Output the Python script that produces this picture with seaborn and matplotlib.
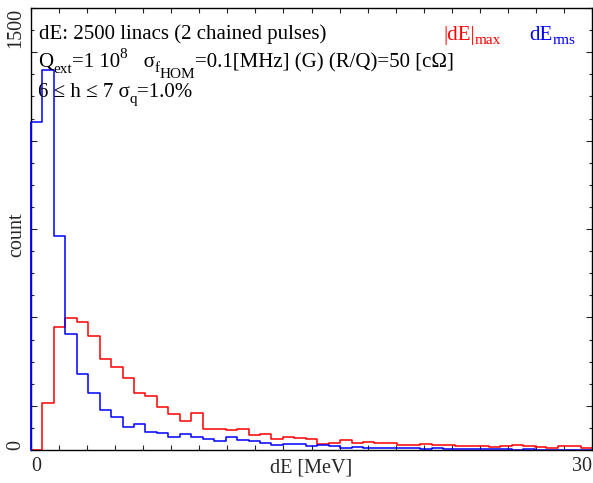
import numpy as np
import pandas as pd
import seaborn as sns
import matplotlib.pyplot as plt
from matplotlib.ticker import FixedLocator

# histogram of dE, 49 bins between 0 and 30 MeV
x_min, x_max, n_bins = 0, 30, 49
dE_max = [0, 160, 417, 448, 434, 387, 309, 282, 244, 193,
          183, 146, 122, 98, 125, 72, 71, 68, 72, 51,
          55, 38, 44, 42, 36, 21, 24, 33, 24, 26,
          23, 23, 17, 17, 19, 18, 16, 15, 15, 15,
          10, 14, 16, 12, 9, 7, 15, 15, 7]
dE_rms = [1113, 1290, 726, 394, 258, 193, 136, 112, 78, 88,
          61, 58, 44, 54, 43, 38, 30, 43, 34, 29,
          24, 18, 19, 20, 12, 16, 12, 8, 10, 7,
          7, 7, 6, 8, 5, 6, 5, 2, 3, 2,
          2, 2, 1, 2, 1, 1, 1, 1, 1]

edges = np.linspace(x_min, x_max, n_bins + 1)
centers = 0.5 * (edges[:-1] + edges[1:])
df = pd.DataFrame({'dE': centers, 'max': dE_max, 'rms': dE_rms})

sns.set_style('ticks')
plt.rcParams['font.family'] = ['Liberation Serif', 'DejaVu Serif']
plt.rcParams['font.size'] = 14.5

W, H = 593, 483
fig = plt.figure(figsize=(W / 100, H / 100), dpi=100)
ax = fig.add_axes([31 / W, 1 - 450 / H, (592 - 31) / W, (450 - 8) / H])

sns.histplot(data=df, x='dE', weights='max', bins=list(edges), element='step',
             fill=False, color='red', linewidth=1.1, ax=ax)
sns.histplot(data=df, x='dE', weights='rms', bins=list(edges), element='step',
             fill=False, color='blue', linewidth=1.1, ax=ax)
# rising edge of the first blue bin (drawn over the left axis as in IDL)
ax.plot([edges[0], edges[0]], [0, dE_rms[0]], color='blue', lw=1.3,
        clip_on=False, zorder=3)

ax.set_xlim(x_min, x_max)
ax.set_ylim(0, 1500)
ax.set_xlabel('')
ax.set_ylabel('')
for s in ax.spines.values():
    s.set_visible(True)
    s.set_color('black')
    s.set_linewidth(1.0)

# x ticks: labels only at the ends
ax.set_xticks([0, 30])
ax.set_xticklabels(['0', '30'])
ax.xaxis.set_minor_locator(FixedLocator(np.arange(1.5, 30, 1.5)))
xl = ax.get_xticklabels()
xl[0].set_ha('left')
xl[1].set_ha('right')
ax.tick_params(axis='x', which='both', direction='in', top=True, bottom=True,
               length=3.5, width=0.8, pad=5, labelsize=14.5)

# y ticks
ax.set_yticks([0, 150, 450, 750, 1050, 1350, 1500])
ax.set_yticklabels(['0', '', '', '', '', '', '1500'], rotation=90)
ax.yaxis.set_minor_locator(FixedLocator(np.arange(75, 1500, 75)))
yl = ax.get_yticklabels()
yl[0].set_va('bottom')
yl[-1].set_va('top')
ax.tick_params(axis='y', which='major', direction='in', left=True, right=True,
               length=4, width=0.8, pad=4, labelsize=14.5)
ax.tick_params(axis='y', which='minor', direction='in', left=True, right=True,
               length=2, width=0.8)

renderer = fig.canvas.get_renderer()
MAIN, SUB = 15, 11


def chain(x, y, pieces, color='black'):
    # pieces: (text, size, dy in px downwards); each piece starts where the last ended
    for s, size, dy in pieces:
        t = fig.text(x / W, 1 - (y + dy) / H, s, va='baseline', ha='left',
                     fontsize=size, color=color)
        bb = t.get_window_extent(renderer)
        x += bb.width


chain(39, 39, [('dE: 2500 linacs (2 chained pulses)', MAIN, 0)])
chain(38, 67, [('Q', MAIN, 0), ('ext', SUB, 6), ('=1 10', MAIN, 0), ('8', SUB, -9),
               ('   σ', MAIN, 0), ('f', SUB, 5), ('HOM', SUB, 11),
               ('=0.1[MHz] (G) (R/Q)=50 [cΩ]', MAIN, 0)])
chain(38, 97, [('6 ≤ h ≤ 7 σ', MAIN, 0), ('q', SUB, 6), ('=1.0%', MAIN, 0)])
chain(443, 40, [('|dE|', MAIN, 0), ('max', SUB, 4)], color='red')
chain(529, 40, [('dE', MAIN, 0), ('rms', SUB, 4)], color='blue')

fig.text(311 / W, 1 - 473 / H, 'dE [MeV]', ha='center', va='baseline', fontsize=14.5)
fig.text(17 / W, 1 - 235 / H, 'count', rotation=90, ha='center', va='center',
         fontsize=14.5)

fig.savefig('out.png', dpi=100)
